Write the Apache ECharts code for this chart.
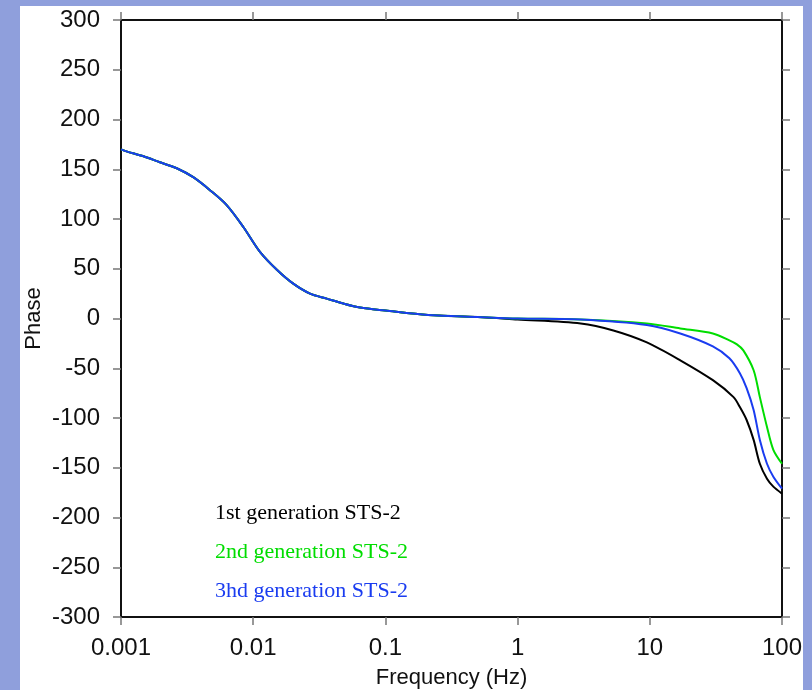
<!DOCTYPE html>
<html>
<head>
<meta charset="utf-8">
<script src="https://cdn.jsdelivr.net/npm/echarts@6/dist/echarts.min.js"></script>
<style>
html,body{margin:0;padding:0;background:#8f9fdc;width:812px;height:690px;overflow:hidden;}
#chart{position:absolute;left:20px;top:6px;width:783px;height:684px;background:#ffffff;}
</style>
</head>
<body>
<div id="chart"></div>
<script>
// Shared low-frequency part (all three generations coincide)
var freqLow  = [0.001, 0.0011, 0.00148, 0.00197, 0.00264, 0.00352, 0.00471, 0.0063, 0.00842, 0.01125, 0.0151, 0.0201, 0.0269, 0.036, 0.0481, 0.0643, 0.1, 0.21, 0.5];
var phaseLow = [170, 168, 163, 157, 151, 142, 129, 114, 92, 67, 49, 35, 25, 20, 15, 11, 8, 3.5, 1.5];

// High-frequency part per generation
var freq1  = [1, 3, 5.3, 9.5, 17, 30, 43, 48, 54, 61, 68, 77, 86, 100];
var phase1 = [-1, -5, -12, -24, -42, -62, -79, -89, -102, -122, -146, -161, -169, -176];

var freq2  = [1, 3, 9.5, 17, 30, 40, 45.6, 51, 61, 68, 77, 86, 100];
var phase2 = [0, -1, -5, -10, -15, -22, -26, -32, -52, -79, -109, -132, -146];

var freq3  = [1, 3, 9.5, 17, 30, 40, 48, 54, 61, 68, 77, 86, 100];
var phase3 = [0, -1, -6.5, -15, -28, -40, -55, -70, -92, -122, -146, -159, -171];

var seriesNames = ['1st generation STS-2', '2nd generation STS-2', '3hd generation STS-2'];
var seriesColors = ['#000000', '#00dd00', '#1a3cf0'];

var xTicks = [0.001, 0.01, 0.1, 1, 10, 100];
var yMin = -300, yMax = 300, yStep = 50;

function pairs(fa, pa){ var out=[]; for(var i=0;i<fa.length;i++){ out.push([fa[i], pa[i]]); } return out; }
var dataLow = pairs(freqLow, phaseLow);
var datasets = [
  dataLow.concat(pairs(freq1, phase1)),
  dataLow.concat(pairs(freq2, phase2)),
  dataLow.concat(pairs(freq3, phase3))
];

var chart = echarts.init(document.getElementById('chart'), null, {renderer:'canvas'});
var font = 'Liberation Sans, Arial, Helvetica, sans-serif';
var tickStyle = {show:true, inside:false, length:8, lineStyle:{color:'#777', width:1.5}};
var lineStyle = {show:true, onZero:false, lineStyle:{color:'#111', width:2}};

function xFmt(v){
  for (var i=0;i<xTicks.length;i++){ if (Math.abs(v-xTicks[i])/xTicks[i] < 1e-6) return String(xTicks[i]); }
  return '';
}

var option = {
  animation:false,
  backgroundColor:'#ffffff',
  grid:{left:101, right:21, top:14, bottom:73, containLabel:false, outerBoundsMode:'none'},
  legend:{
    show:true, orient:'vertical', left:185, top:491, icon:'none',
    itemWidth:0, itemHeight:22, itemGap:17, selectedMode:false,
    textStyle:{fontFamily:'Liberation Serif, Times New Roman, serif', fontSize:22, lineHeight:22},
    data: seriesNames.map(function(n,i){ return {name:n, textStyle:{color:seriesColors[i]}}; })
  },
  xAxis:[
    {type:'log', logBase:10, min:0.001, max:100, position:'bottom',
     axisLine:lineStyle, axisTick:tickStyle, splitLine:{show:false}, minorTick:{show:false},
     axisLabel:{show:true, margin:19, fontFamily:font, fontSize:24, color:'#111', formatter:xFmt},
     name:'Frequency (Hz)', nameLocation:'middle', nameGap:50,
     nameTextStyle:{fontFamily:font, fontSize:22, color:'#111'}},
    {type:'log', logBase:10, min:0.001, max:100, position:'top',
     axisLine:lineStyle, axisTick:tickStyle, splitLine:{show:false}, axisLabel:{show:false}}
  ],
  yAxis:[
    {type:'value', min:yMin, max:yMax, interval:yStep, position:'left',
     axisLine:lineStyle, axisTick:tickStyle, splitLine:{show:false},
     axisLabel:{show:true, margin:21, fontFamily:font, fontSize:24, color:'#111'},
     name:'Phase', nameLocation:'middle', nameGap:76, nameRotate:90, nameMoveOverlap:false,
     nameTextStyle:{fontFamily:font, fontSize:22, color:'#111'}},
    {type:'value', min:yMin, max:yMax, interval:yStep, position:'right',
     axisLine:lineStyle, axisTick:tickStyle, splitLine:{show:false}, axisLabel:{show:false}}
  ],
  series: datasets.map(function(d,i){
    return {name:seriesNames[i], type:'line', data:d, showSymbol:false, smooth:0.3,
            xAxisIndex:0, yAxisIndex:0, color:seriesColors[i],
            lineStyle:{color:seriesColors[i], width:2}, z:2+i};
  })
};
chart.setOption(option);
</script>
</body>
</html>
